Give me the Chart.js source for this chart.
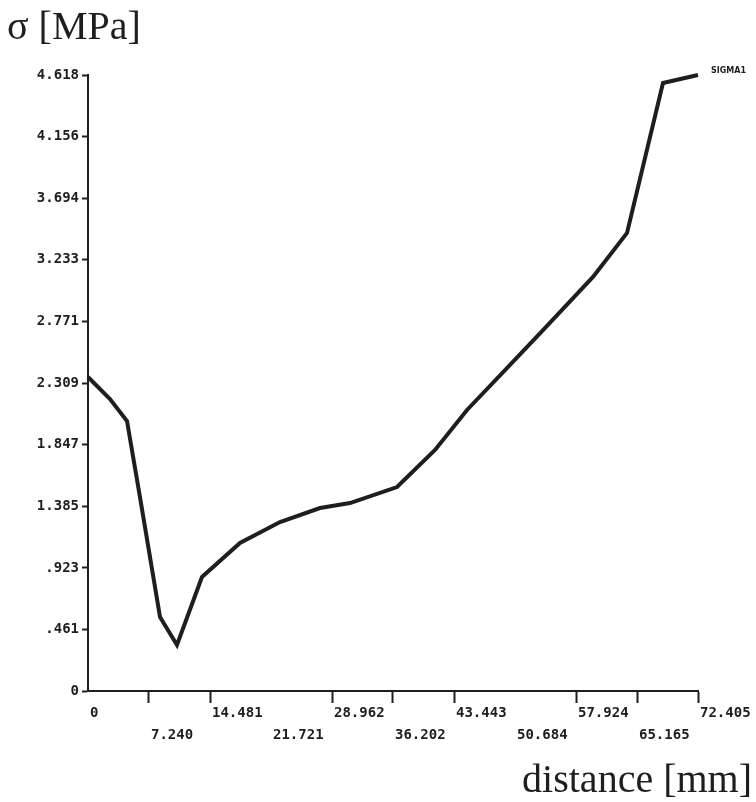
<!DOCTYPE html>
<html>
<head>
<meta charset="utf-8">
<script src="https://cdn.jsdelivr.net/npm/chart.js@4.4.1/dist/chart.umd.min.js"></script>
<style>
  body { margin: 0; background: #fff; }
  #wrap { width: 756px; height: 802px; }
</style>
</head>
<body>
<div id="wrap"><canvas id="sigmaChart"></canvas></div>
<script>
// values
const distance = [0, 2.61, 4.63, 6.17, 8.55, 10.56, 13.53, 18.04, 22.79, 27.54, 31.10,
                  36.68, 41.19, 44.99, 49.50, 54.01, 59.94, 63.98, 68.25, 72.405];
const sigma = [2.354, 2.189, 2.024, 1.454, 0.555, 0.345, 0.855, 1.110, 1.267, 1.372, 1.409,
               1.529, 1.807, 2.107, 2.406, 2.706, 3.104, 3.434, 4.558, 4.618];

const xTicks = [0, 7.240, 14.481, 21.721, 28.962, 36.202, 43.443, 50.684, 57.924, 65.165, 72.405];
const xTickLabels = ['0', '7.240', '14.481', '21.721', '28.962', '36.202', '43.443', '50.684', '57.924', '65.165', '72.405'];
const yTicks = [0, 0.461, 0.923, 1.385, 1.847, 2.309, 2.771, 3.233, 3.694, 4.156, 4.618];
const yTickLabels = ['0', '.461', '.923', '1.385', '1.847', '2.309', '2.771', '3.233', '3.694', '4.156', '4.618'];

const ink = '#1e1e1e';
const tickFont = { family: '"DejaVu Sans Mono"', size: 14, weight: 'bold', lineHeight: 1.55 };
const titleFont = { family: '"Liberation Serif"', size: 40, weight: 'normal', lineHeight: 1 };
const noTick = [0, 3, 7]; // plot has no marks under these labels

// series name written at the end of the curve
const seriesLabel = {
  id: 'seriesLabel',
  afterDatasetsDraw(chart) {
    const pts = chart.getDatasetMeta(0).data;
    const last = pts[pts.length - 1];
    const ctx = chart.ctx;
    ctx.save();
    ctx.font = 'bold 8px "DejaVu Sans"';
    ctx.fillStyle = ink;
    ctx.textBaseline = 'middle';
    ctx.fillText(chart.data.datasets[0].label, last.x + 13, last.y - 4);
    ctx.restore();
  }
};

const ctx = document.getElementById('sigmaChart').getContext('2d');
new Chart(ctx, {
  type: 'line',
  data: {
    datasets: [{
      label: 'SIGMA1',
      data: distance.map((d, i) => ({ x: d, y: sigma[i] })),
      borderColor: ink,
      borderWidth: 4,
      pointRadius: 0,
      tension: 0,
      clip: 8
    }]
  },
  plugins: [seriesLabel],
  options: {
    responsive: true,
    maintainAspectRatio: false,
    animation: false,
    layout: { padding: { left: 7, right: 4, top: 0, bottom: 0 } },
    plugins: {
      legend: { display: false },
      tooltip: { enabled: false },
      title: {
        display: true,
        text: 'σ [MPa]',
        align: 'start',
        color: ink,
        font: titleFont,
        padding: { top: 8, bottom: 27 }
      },
      subtitle: {
        display: true,
        position: 'bottom',
        text: 'distance [mm]',
        align: 'end',
        color: ink,
        font: titleFont,
        padding: { top: 10, bottom: 1 }
      }
    },
    scales: {
      x: {
        type: 'linear',
        min: 0,
        max: 72.405,
        afterBuildTicks: (scale) => { scale.ticks = xTicks.map(v => ({ value: v })); },
        afterFit: (scale) => { scale.height = 60; },
        ticks: {
          autoSkip: false,
          maxRotation: 0,
          align: 'start',
          labelOffset: 2,
          padding: 0,
          color: ink,
          font: tickFont,
          callback: (v, i) => (i % 2 === 0 ? [xTickLabels[i]] : ['', xTickLabels[i]])
        },
        grid: {
          drawOnChartArea: false,
          tickLength: 12,
          tickWidth: 2,
          tickColor: (c) => (noTick.includes(c.index) ? 'rgba(0,0,0,0)' : ink)
        },
        border: { color: ink, width: 2 }
      },
      y: {
        min: 0,
        max: 4.618,
        afterBuildTicks: (scale) => { scale.ticks = yTicks.map(v => ({ value: v })); },
        afterFit: (scale) => { scale.width = 81; },
        ticks: {
          autoSkip: false,
          padding: 3,
          color: ink,
          font: tickFont,
          callback: (v, i) => yTickLabels[i]
        },
        grid: { drawOnChartArea: false, tickLength: 6, tickWidth: 2, tickColor: ink },
        border: { color: ink, width: 2 }
      },
      // empty right axis keeps room for the series name and last tick label
      yRight: {
        position: 'right',
        min: 0,
        max: 1,
        afterFit: (scale) => { scale.width = 54; },
        ticks: { display: false },
        grid: { display: false },
        border: { display: false }
      }
    }
  }
});
</script>
</body>
</html>
